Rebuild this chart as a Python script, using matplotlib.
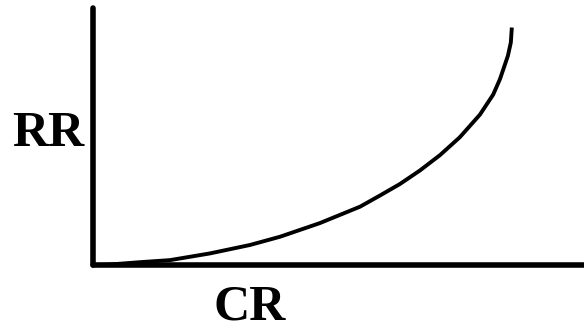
import matplotlib
matplotlib.use("Agg")
import matplotlib.pyplot as plt

# curve (arbitrary units, axes span 0..10)
cr = [0.04, 0.35, 0.96, 1.57, 2.38, 3.20, 3.81, 4.62, 5.44, 5.85, 6.25, 6.66, 7.07,
      7.47, 7.88, 8.15, 8.29, 8.45, 8.51, 8.53]
rr = [0.00, 0.02, 0.11, 0.19, 0.45, 0.78, 1.10, 1.63, 2.27, 2.71, 3.15, 3.68, 4.28,
      4.97, 5.85, 6.63, 7.24, 8.14, 8.66, 9.24]

W, H = 584, 326
fig = plt.figure(figsize=(W / 100, H / 100), dpi=100)

# axes placed in pixel terms: left spine x=93, bottom spine y=265, top y=8
left, right, top, bottom = 93, 584, 8, 265
ax = fig.add_axes([left / W, (H - bottom) / H, (right - left) / W, (bottom - top) / H])
ax.plot(cr, rr, color="black", lw=2.8, solid_joinstyle="round", solid_capstyle="butt")
ax.set_xlim(0, 10)
ax.set_ylim(0, 10)

for side in ["top", "right"]:
    ax.spines[side].set_visible(False)
for side in ["left", "bottom"]:
    ax.spines[side].set_linewidth(4)
    ax.spines[side].set_capstyle("round")
    ax.spines[side].set_joinstyle("round")
ax.set_xticks([])
ax.set_yticks([])

font = dict(family="Liberation Serif", fontweight="bold", fontsize=36, color="black")
fig.text(12 / W, 1 - 146 / H, "RR", ha="left", va="baseline", **font)
fig.text(250 / W, 1 - 320 / H, "CR", ha="center", va="baseline", **font)

fig.savefig("out.png", dpi=100)
